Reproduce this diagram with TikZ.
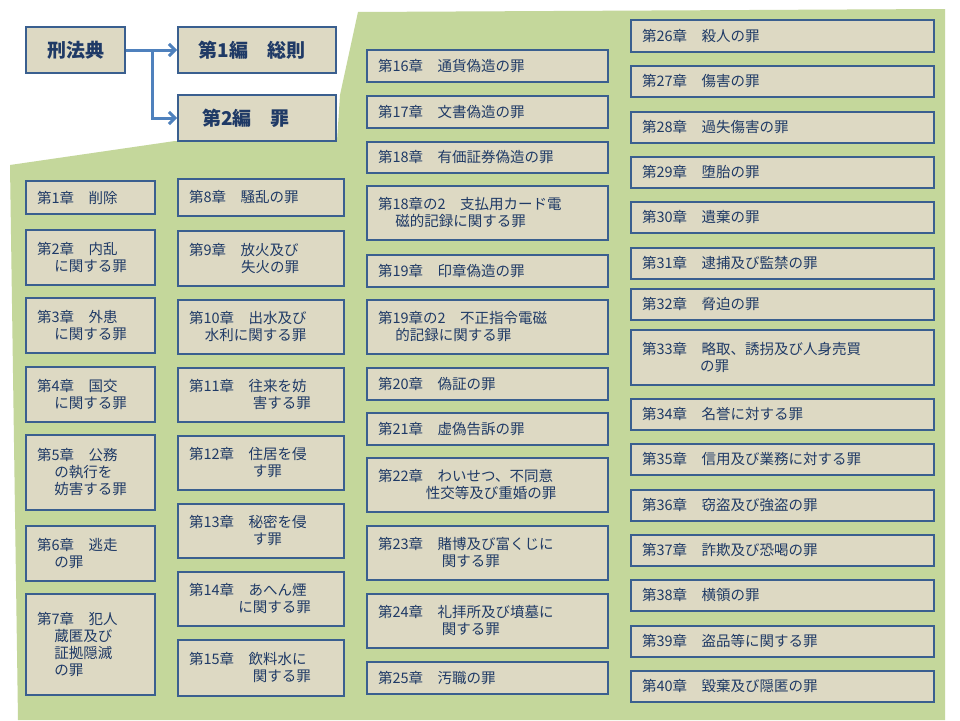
\documentclass[tikz,border=0pt]{standalone}
\usepackage{fontspec}
\usetikzlibrary{arrows.meta}
\setmainfont{Noto Sans CJK JP}
\definecolor{bxfill}{HTML}{DDD9C3}
\definecolor{bxline}{HTML}{3A5F8F}
\definecolor{bxtext}{HTML}{1F3A66}
\definecolor{bggreen}{HTML}{C4D79B}
\definecolor{arrowc}{HTML}{4F81BD}
\newcommand{\bx}[6]{%
  \pgfmathsetmacro{\bw}{#4-#2}\pgfmathsetmacro{\bh}{#5-#3}\pgfmathsetmacro{\tw}{#4-#2-22}%
  \node[chap,minimum width=\bw pt,minimum height=\bh pt,text width=\tw pt] (#1) at ({(#2+#4)/2},{(#3+#5)/2}) {#6};}
\newcommand{\ind}[1]{\hspace*{#1em}}
\begin{document}
\begin{tikzpicture}[x=1pt,y=-1pt,
  chap/.style={draw=bxline,line width=1.6pt,fill=bxfill,text=bxtext,font=\fontsize{14.5}{17}\selectfont,align=left,inner sep=0pt},
  big/.style={draw=bxline,line width=1.8pt,fill=bxfill,text=bxtext,font=\fontsize{19}{22}\selectfont\bfseries,inner sep=0pt},
  arr/.style={draw=arrowc,line width=3pt,-{Straight Barb[length=6pt,width=12pt]}}]
\useasboundingbox (0,0) rectangle (960,720);
\fill[white] (0,0) rectangle (960,720);
\fill[bggreen] (10,165) -- (175,141) -- (337,141) -- (340,95) -- (358,12) -- (945,9) -- (945,720) -- (18,720) -- cycle;
\node[big,minimum width=99pt,minimum height=46pt] (kh) at (75.5,50) {刑法典};
\node[big,minimum width=158pt,minimum height=46pt] (p1) at (257,50) {\hspace*{-10pt}第1編　総則};
\node[big,minimum width=158pt,minimum height=46pt] (p2) at (257,118) {\hspace*{-22pt}第2編　罪};
\coordinate (br) at (152,50);
\draw[arr] (kh.east) -- (p1.west);
\draw[arr] (br) |- (p2.west);
% column 1
\bx{c1}{26}{181}{155}{214}{第1章　削除}
\bx{c2}{26}{230}{155}{285}{第2章　内乱\\\ind{1.2}に関する罪}
\bx{c3}{26}{298}{155}{353}{第3章　外患\\\ind{1.2}に関する罪}
\bx{c4}{26}{367}{155}{422}{第4章　国交\\\ind{1.2}に関する罪}
\bx{c5}{26}{435}{155}{510}{第5章　公務\\\ind{1.2}の執行を\\\ind{1.2}妨害する罪}
\bx{c6}{26}{526}{155}{581}{第6章　逃走\\\ind{1.2}の罪}
\bx{c7}{26}{594}{155}{695}{第7章　犯人\\\ind{1.2}蔵匿及び\\\ind{1.2}証拠隠滅\\\ind{1.2}の罪}
% column 2
\bx{c8}{178}{179}{344}{216}{第8章　騒乱の罪}
\bx{c9}{178}{231}{344}{286}{第9章　放火及び\\\ind{3.6}失火の罪}
\bx{c10}{178}{300}{344}{354}{第10章　出水及び\\\ind{1.1}水利に関する罪}
\bx{c11}{178}{368}{344}{422}{第11章　往来を妨\\\ind{4.4}害する罪}
\bx{c12}{178}{436}{344}{490}{第12章　住居を侵\\\ind{4.4}す罪}
\bx{c13}{178}{504}{344}{558}{第13章　秘密を侵\\\ind{4.4}す罪}
\bx{c14}{178}{572}{344}{626}{第14章　あへん煙\\\ind{3.4}に関する罪}
\bx{c15}{178}{640}{344}{696}{第15章　飲料水に\\\ind{4.4}関する罪}
% column 3
\bx{c16}{367}{50}{608}{82}{第16章　通貨偽造の罪}
\bx{c17}{367}{96}{608}{128}{第17章　文書偽造の罪}
\bx{c18}{367}{142}{608}{173}{第18章　有価証券偽造の罪}
\bx{c18b}{367}{186}{608}{240}{第18章の2　支払用カード電\\\ind{1.2}磁的記録に関する罪}
\bx{c19}{367}{255}{608}{287}{第19章　印章偽造の罪}
\bx{c19b}{367}{300}{608}{354}{第19章の2　不正指令電磁\\\ind{1.2}的記録に関する罪}
\bx{c20}{367}{368}{608}{400}{第20章　偽証の罪}
\bx{c21}{367}{413}{608}{445}{第21章　虚偽告訴の罪}
\bx{c22}{367}{458}{608}{512}{第22章　わいせつ、不同意\\\ind{3.3}性交等及び重婚の罪}
\bx{c23}{367}{526}{608}{580}{第23章　賭博及び富くじに\\\ind{4.4}関する罪}
\bx{c24}{367}{594}{608}{648}{第24章　礼拝所及び墳墓に\\\ind{4.4}関する罪}
\bx{c25}{367}{662}{608}{694}{第25章　汚職の罪}
% column 4
\bx{c26}{631}{20}{934}{52}{第26章　殺人の罪}
\bx{c27}{631}{66}{934}{97}{第27章　傷害の罪}
\bx{c28}{631}{112}{934}{143}{第28章　過失傷害の罪}
\bx{c29}{631}{157}{934}{188}{第29章　堕胎の罪}
\bx{c30}{631}{202}{934}{233}{第30章　遺棄の罪}
\bx{c31}{631}{248}{934}{279}{第31章　逮捕及び監禁の罪}
\bx{c32}{631}{289}{934}{320}{第32章　脅迫の罪}
\bx{c33}{631}{330}{934}{385}{第33章　略取、誘拐及び人身売買\\\ind{4.0}の罪}
\bx{c34}{631}{399}{934}{430}{第34章　名誉に対する罪}
\bx{c35}{631}{444}{934}{475}{第35章　信用及び業務に対する罪}
\bx{c36}{631}{490}{934}{521}{第36章　窃盗及び強盗の罪}
\bx{c37}{631}{535}{934}{566}{第37章　詐欺及び恐喝の罪}
\bx{c38}{631}{580}{934}{611}{第38章　横領の罪}
\bx{c39}{631}{626}{934}{657}{第39章　盗品等に関する罪}
\bx{c40}{631}{671}{934}{702}{第40章　毀棄及び隠匿の罪}
\end{tikzpicture}
\end{document}
